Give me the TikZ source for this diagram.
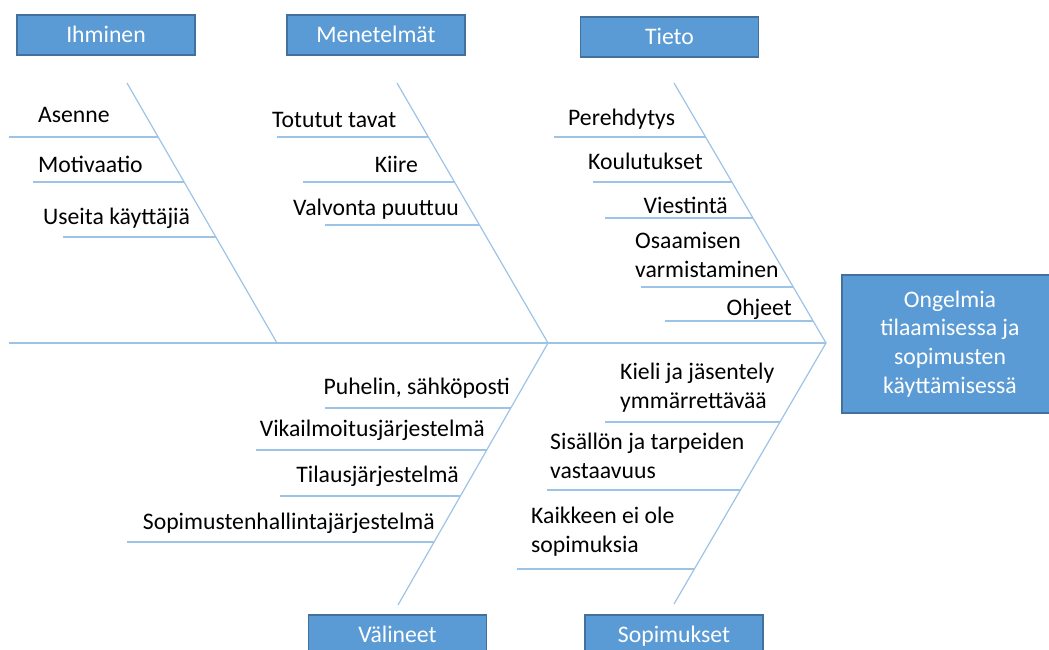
\documentclass[tikz,border=0pt]{standalone}
\usepackage{fontspec}
\setmainfont{Carlito}
\definecolor{bonecol}{RGB}{157,195,230}
\definecolor{boxfill}{RGB}{91,155,213}
\definecolor{boxedge}{RGB}{65,113,156}
\newcommand\lblfont{\fontsize{23.7}{28.7}\selectfont}
\begin{document}
\begin{tikzpicture}[x=1pt,y=-1pt,
  bone/.style={draw=bonecol,line width=1.2pt},
  head/.style={draw=boxedge,fill=boxfill,line width=1.3pt,text=white,minimum width=178pt,minimum height=40pt,inner sep=0pt,font=\lblfont,text height=17.8pt,text depth=2.5pt},
  lab/.style={inner sep=0pt,font=\lblfont,align=left}]
\useasboundingbox (0,0) rectangle (1049,650);
% category boxes
\node[head] (ihminen) at (106,35) {Ihminen};
\node[head] (menetelmat) at (376,35) {Menetelmät};
\node[head] (tieto) at (669.5,37) {Tieto};
\node[head] (valineet) at (397.5,635) {Välineet};
\node[head] (sopimukset) at (674,635) {Sopimukset};
\node[draw=boxedge,fill=boxfill,line width=1.3pt,text=white,inner sep=0pt,font=\lblfont,minimum width=216pt,minimum height=138pt,align=center] (effect) at (950,344)
  {Ongelmia\\tilaamisessa ja\\sopimusten\\käyttämisessä};
% spine and main bones
\coordinate (tail) at (9,343);
\coordinate (mid) at (548,343);
\coordinate (tip) at (826,343);
\coordinate (i0) at (127,83);
\coordinate (i1) at (277,343);
\coordinate (m0) at (397,83);
\coordinate (t0) at (674,83);
\coordinate (v0) at (398,605);
\coordinate (s0) at (674,604);
\draw[bone] (tail) -- (tip);
\draw[bone] (i0) -- (i1);
\draw[bone] (m0) -- (mid) -- (v0);
\draw[bone] (t0) -- (tip) -- (s0);
% Ihminen
\node[lab,anchor=base west] (asenne) at (38,123) {Asenne};
\node[lab,anchor=base west] (motivaatio) at (38,172) {Motivaatio};
\node[lab,anchor=base west] (useita) at (43,224) {Useita käyttäjiä};
\draw[bone] (9,137) -- (158,137);
\draw[bone] (33,182) -- (184,182);
\draw[bone] (63,237) -- (216,237);
% Menetelmat
\node[lab,anchor=base west] (totutut) at (272,128) {Totutut tavat};
\node[lab,anchor=base east] (kiire) at (418,172) {Kiire};
\node[lab,anchor=base west] (valvonta) at (293,215) {Valvonta puuttuu};
\draw[bone] (277,137) -- (428,137);
\draw[bone] (303,182) -- (454,182);
\draw[bone] (325,225) -- (479,225);
% Tieto
\node[lab,anchor=base west] (perehdytys) at (568,126) {Perehdytys};
\node[lab,anchor=base west] (koulutukset) at (588,169) {Koulutukset};
\node[lab,anchor=base east] (viestinta) at (728,213) {Viestintä};
\node[lab,anchor=base west] (osaamisen) at (635,277) {Osaamisen\\varmistaminen};
\node[lab,anchor=base east] (ohjeet) at (792,315) {Ohjeet};
\draw[bone] (554,137) -- (706,137);
\draw[bone] (593,182) -- (732,182);
\draw[bone] (605,218) -- (753,218);
\draw[bone] (641,287) -- (793,287);
\draw[bone] (665,321) -- (813,321);
% Valineet
\node[lab,anchor=base east] (puhelin) at (510,394) {Puhelin, sähköposti};
\node[lab,anchor=base east] (vikail) at (485,436) {Vikailmoitusjärjestelmä};
\node[lab,anchor=base east] (tilaus) at (459,482) {Tilausjärjestelmä};
\node[lab,anchor=base east] (sopimusten) at (435,529) {Sopimustenhallintajärjestelmä};
\draw[bone] (325,408) -- (511,408);
\draw[bone] (256,450) -- (487,450);
\draw[bone] (280,496) -- (460,496);
\draw[bone] (127,542) -- (434,542);
% Sopimukset
\node[lab,anchor=base west] (kieli) at (620,408) {Kieli ja jäsentely\\ymmärrettävää};
\node[lab,anchor=base west] (sisallon) at (550,478) {Sisällön ja tarpeiden\\vastaavuus};
\node[lab,anchor=base west] (kaikkeen) at (531,552) {Kaikkeen ei ole\\sopimuksia};
\draw[bone] (605,422) -- (780,422);
\draw[bone] (547,490) -- (740,490);
\draw[bone] (517,569) -- (694,569);
\end{tikzpicture}
\end{document}
